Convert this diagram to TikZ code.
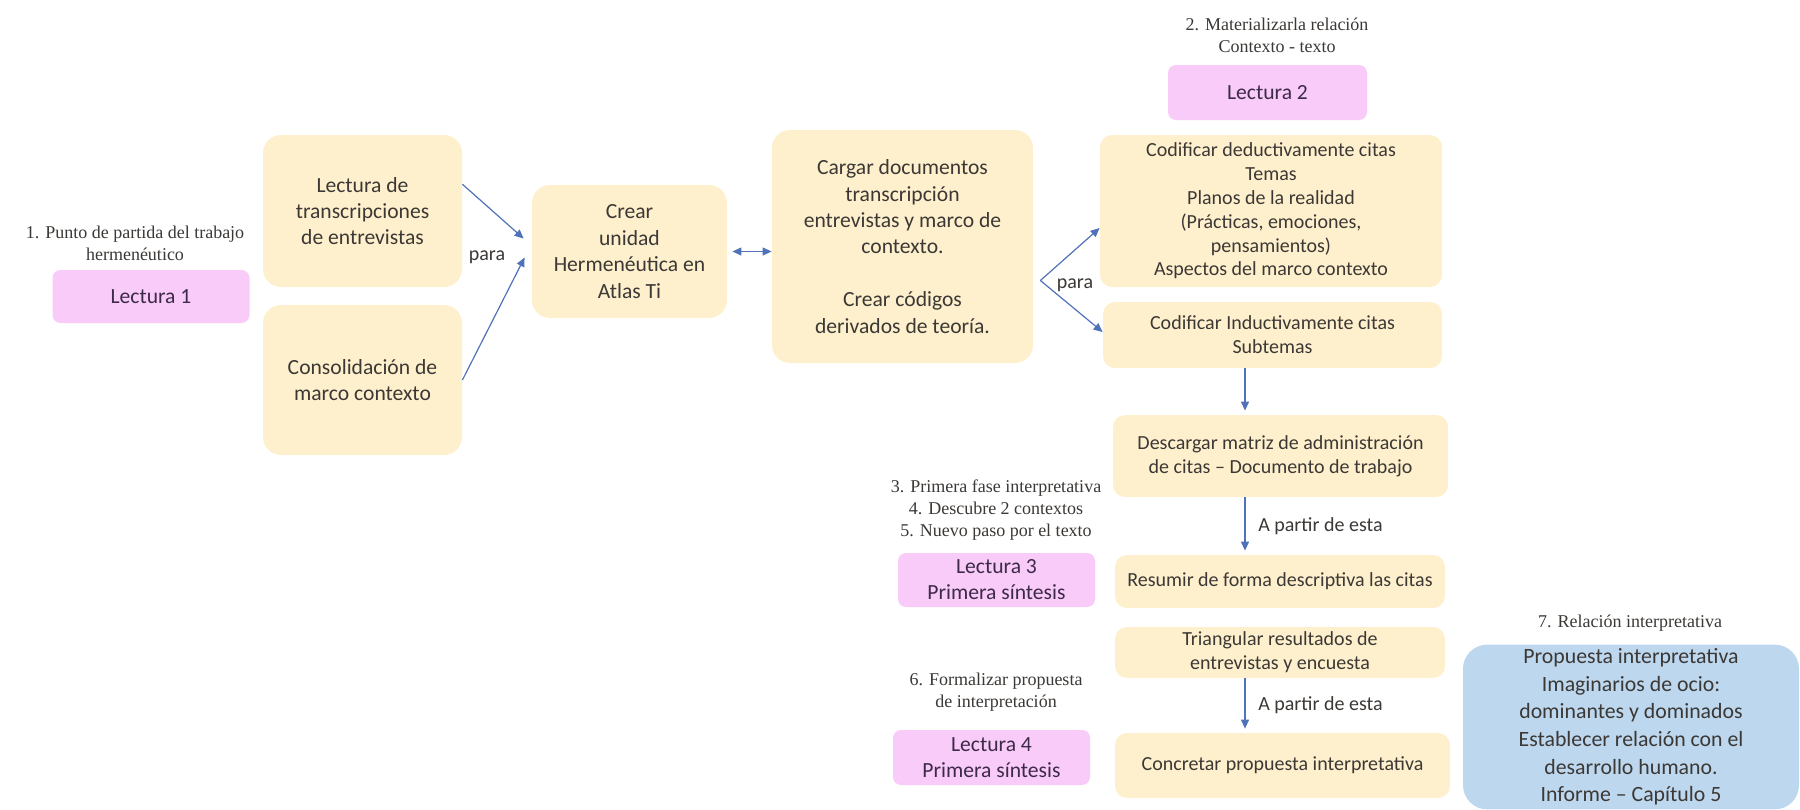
\documentclass[tikz,border=0pt]{standalone}
\usepackage{fontspec}
\setmainfont{Carlito}
\newfontfamily\notefont{Liberation Serif}
\usetikzlibrary{arrows.meta}

\definecolor{boxyellow}{HTML}{FFF0CD}
\definecolor{boxpink}{HTML}{F9CBF8}
\definecolor{boxblue}{HTML}{BDD7EE}
\definecolor{arrowblue}{HTML}{4F72B8}
\definecolor{textgray}{HTML}{3B3835}
\definecolor{lectext}{HTML}{3D2A48}

\begin{document}
\begin{tikzpicture}[x=0.5pt, y=-0.5pt,
    stepbox/.style={fill=boxyellow, rounded corners=9pt, align=center, text=textgray,
        inner sep=2pt, font=\fontsize{10.8}{13.2}\selectfont},
    smallbox/.style={stepbox, rounded corners=6pt, font=\fontsize{10}{12}\selectfont},
    lecture/.style={fill=boxpink, rounded corners=4pt, align=center, text=lectext,
        inner sep=2pt, font=\fontsize{10.8}{13}\selectfont, minimum width=98.5pt},
    note/.style={align=center, text=textgray, font=\notefont\fontsize{9}{11}\selectfont},
    linklabel/.style={text=textgray, font=\fontsize{10}{12}\selectfont},
    link/.style={draw=arrowblue, line width=0.6pt, -{Triangle[length=4.5pt,width=4pt]}},
]
    \useasboundingbox (0,0) rectangle (1800,809);

    % Lectura 1
    \node[note] (note1) at (135,243) {1. Punto de partida del trabajo\\hermenéutico};
    \node[lecture, minimum height=26.5pt] (lec1) at (151,296.5) {Lectura 1};

    % first column
    \node[stepbox, minimum width=99.5pt, minimum height=76pt] (transc) at (362.5,211)
        {Lectura de\\transcripciones\\de entrevistas};
    \node[stepbox, minimum width=99.5pt, minimum height=75pt] (consol) at (362.5,380)
        {Consolidación de\\marco contexto};

    % Atlas Ti
    \node[stepbox, minimum width=97.5pt, minimum height=66.5pt] (crear) at (629.5,251.5)
        {Crear\\unidad\\Hermenéutica en\\Atlas Ti};
    \node[stepbox, minimum width=130.5pt, minimum height=116.5pt] (cargar) at (902.5,246.5)
        {Cargar documentos\\transcripción\\entrevistas y marco de\\contexto.\\[13.2pt]Crear códigos\\derivados de teoría.};

    \draw[link] (transc.15) -- ([xshift=-4pt,yshift=6.5pt]crear.west);
    \draw[link] (consol.east) -- ([xshift=-3.5pt,yshift=-3pt]crear.west);
    \node[linklabel] (para1) at (487,257) {para};
    \draw[link, {Triangle[length=4.5pt,width=4pt]}-{Triangle[length=4.5pt,width=4pt]}, shorten <=2.5pt]
        (crear.east) -- (crear.east -| cargar.west);

    % Lectura 2
    \node[note] (note2) at (1277,35) {2. Materializarla relación\\Contexto - texto};
    \node[lecture, minimum width=99.5pt, minimum height=27.5pt] (lec2) at (1267.5,92.5) {Lectura 2};

    % coding
    \node[smallbox, minimum width=171pt, minimum height=76pt, font=\fontsize{10}{11.9}\selectfont] (cod1) at (1271,211)
        {Codificar deductivamente citas\\Temas\\Planos de la realidad\\(Prácticas, emociones,\\pensamientos)\\Aspectos del marco contexto};
    \node[smallbox, minimum width=169.5pt, minimum height=33pt] (cod2) at (1272.5,335)
        {Codificar Inductivamente citas\\Subtemas};

    \coordinate (fork) at ([xshift=3.5pt,yshift=-17pt]cargar.east);
    \draw[link] (fork) -- ([yshift=-8.5pt]cod1.west);
    \draw[link] (fork) -- ([yshift=1.5pt]cod2.west);
    \node[linklabel] (para2) at (1075,285) {para};

    % Lectura 3
    \node[note] (note3) at (996,510)
        {3. Primera fase interpretativa\\4. Descubre 2 contextos\\5. Nuevo paso por el texto};
    \node[lecture, minimum height=27pt] (lec3) at (996.5,580) {Lectura 3\\Primera síntesis};

    \node[smallbox, minimum width=167.5pt, minimum height=41pt] (desc) at (1280.5,456)
        {Descargar matriz de administración\\de citas – Documento de trabajo};
    \node[smallbox, minimum width=165pt, minimum height=26.5pt] (resum) at (1280,581.5)
        {Resumir de forma descriptiva las citas};

    % Lectura 4
    \node[note] (note6) at (996,692) {6. Formalizar propuesta\\de interpretación};
    \node[lecture, minimum height=27.5pt] (lec4) at (991.5,757.5) {Lectura 4\\Primera síntesis};

    \node[smallbox, minimum width=165pt, minimum height=25.5pt] (triang) at (1280,652.5)
        {Triangular resultados de\\entrevistas y encuesta};
    \node[smallbox, minimum width=167.5pt, minimum height=32.5pt] (concr) at (1282.5,765.5)
        {Concretar propuesta interpretativa};

    \coordinate (spine) at (1245,0);
    \draw[link, shorten >=2pt] (cod2.south -| spine) -- (desc.north -| spine);
    \draw[link, shorten >=2pt] (desc.south -| spine) -- (resum.north -| spine)
        node[linklabel, midway, right=3pt] (from1) {A partir de esta};
    \draw[link, shorten >=2pt] (triang.south -| spine) -- (concr.north -| spine)
        node[linklabel, midway, right=3pt] (from2) {A partir de esta};

    % relation
    \node[note] (note7) at (1630,623) {7. Relación interpretativa};
    \node[stepbox, fill=boxblue, rounded corners=12pt, minimum width=168pt, minimum height=82pt,
        font=\fontsize{10.9}{13.8}\selectfont] (prop) at (1631,727)
        {Propuesta interpretativa\\Imaginarios de ocio:\\dominantes y dominados\\Establecer relación con el\\desarrollo humano.\\Informe – Capítulo 5};
\end{tikzpicture}
\end{document}
